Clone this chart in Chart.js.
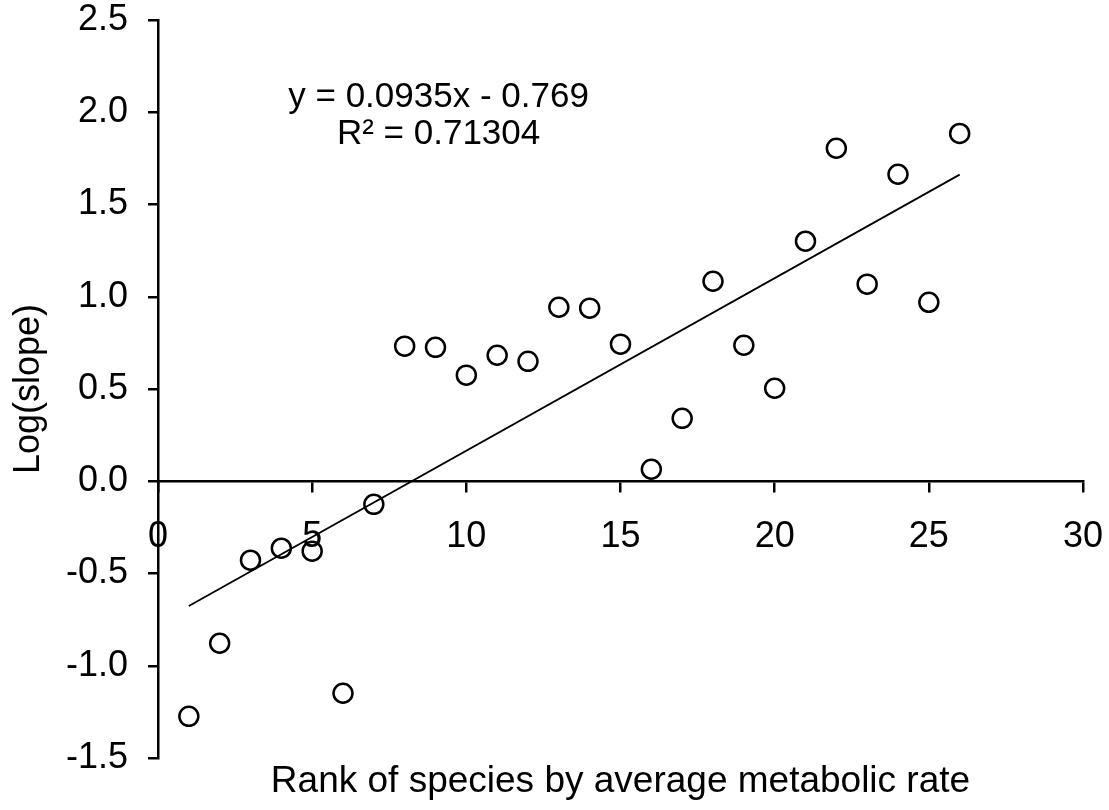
<!DOCTYPE html>
<html>
<head>
<meta charset="utf-8">
<script src="https://cdn.jsdelivr.net/npm/chart.js@4.4.0/dist/chart.umd.min.js"></script>
<style>
  html, body { margin: 0; padding: 0; background: #fff; }
  canvas { display: block; }
</style>
</head>
<body>
<canvas id="rankChart" width="1109" height="810"></canvas>
<script>
// rank of species (x) and log(slope) (y)
const ranks = [1, 2, 3, 4, 5, 6, 7, 8, 9, 10, 11, 12, 13, 14, 15, 16, 17, 18, 19, 20, 21, 22, 23, 24, 25, 26];
const logSlopes = [-1.274, -0.878, -0.428, -0.363, -0.379, -1.149, -0.125, 0.732, 0.726, 0.575, 0.683, 0.650, 0.943,
    0.938, 0.743, 0.065, 0.341, 1.084, 0.737, 0.504, 1.301, 1.805, 1.068, 1.664, 0.970, 1.885];

// linear trend line end points
const trendX = [1, 26];
const trendY = [-0.676, 1.662];

const equationLines = ["y = 0.0935x - 0.769", "R\u00b2 = 0.71304"];
const xTicks = [0, 5, 10, 15, 20, 25, 30];
const yTicks = [-1.5, -1.0, -0.5, 0.0, 0.5, 1.0, 1.5, 2.0, 2.5];

const xTitle = "Rank of species by average metabolic rate";
const yTitle = "Log(slope)";

const FONT = "'Liberation Sans', Arial, sans-serif";

// titles and the regression label are drawn by hand
const textPlugin = {
    id: 'textPlugin',
    afterDraw(chart) {
        const ctx = chart.ctx;
        const area = chart.chartArea;
        const xs = chart.scales.x;
        const ys = chart.scales.y;
        ctx.save();
        ctx.fillStyle = '#000';

        // x title under the plot
        ctx.font = '37px ' + FONT;
        ctx.textAlign = 'center';
        ctx.textBaseline = 'alphabetic';
        ctx.fillText(xTitle, (area.left + area.right) / 2, 792);

        // y title, rotated
        ctx.font = '36px ' + FONT;
        ctx.save();
        ctx.translate(39, (area.top + area.bottom) / 2);
        ctx.rotate(-Math.PI / 2);
        ctx.fillText(yTitle, 0, 0);
        ctx.restore();

        // equation + r squared
        ctx.font = '35px ' + FONT;
        ctx.textBaseline = 'middle';
        ctx.fillText(equationLines[0], xs.getPixelForValue(9.1), ys.getPixelForValue(2.079));
        ctx.fillText(equationLines[1], xs.getPixelForValue(9.1), ys.getPixelForValue(1.881));
        ctx.restore();
    }
};

// keep tick labels from pushing the plot area around, layout padding decides it
function noLabelPadding(scale) {
    scale.paddingTop = 0;
    scale.paddingBottom = 0;
    scale.paddingLeft = 0;
    scale.paddingRight = 0;
}

const ctx = document.getElementById('rankChart').getContext('2d');
new Chart(ctx, {
    type: 'scatter',
    data: {
        datasets: [{
            type: 'scatter',
            data: ranks.map((r, i) => ({ x: r, y: logSlopes[i] })),
            pointStyle: 'circle',
            pointRadius: 9.5,
            pointBorderWidth: 2.5,
            borderColor: '#000',
            backgroundColor: 'rgba(0,0,0,0)',
            order: 1
        }, {
            type: 'line',
            data: trendX.map((x, i) => ({ x: x, y: trendY[i] })),
            borderColor: '#000',
            borderWidth: 1.8,
            pointRadius: 0,
            fill: false,
            order: 2
        }]
    },
    options: {
        responsive: false,
        animation: false,
        devicePixelRatio: 1,
        layout: { padding: { top: 20, right: 26, bottom: 52, left: 0 } },
        plugins: {
            legend: { display: false },
            tooltip: { enabled: false }
        },
        scales: {
            x: {
                type: 'linear',
                position: { y: 0 },
                min: 0,
                max: 30,
                afterBuildTicks: (scale) => { scale.ticks = xTicks.map(v => ({ value: v })); },
                afterFit: noLabelPadding,
                ticks: {
                    color: '#000',
                    font: { family: FONT, size: 36 },
                    padding: 24,
                    maxRotation: 0,
                    callback: (v) => String(v)
                },
                grid: {
                    drawOnChartArea: false,
                    drawTicks: true,
                    tickLength: 10,
                    color: '#000',
                    lineWidth: 2.5
                },
                border: { display: true, color: '#000', width: 2.5 }
            },
            y: {
                type: 'linear',
                position: 'left',
                min: -1.5,
                max: 2.5,
                afterBuildTicks: (scale) => { scale.ticks = yTicks.map(v => ({ value: v })); },
                afterFit: (scale) => { scale.width = 158; noLabelPadding(scale); },
                ticks: {
                    color: '#000',
                    font: { family: FONT, size: 36, lineHeight: 1.1 },
                    padding: 20,
                    callback: (v) => Number(v).toFixed(1)
                },
                grid: {
                    drawOnChartArea: false,
                    drawTicks: true,
                    tickLength: 10,
                    color: '#000',
                    lineWidth: 2.5
                },
                border: { display: true, color: '#000', width: 2.5 }
            }
        }
    },
    plugins: [textPlugin]
});
</script>
</body>
</html>
